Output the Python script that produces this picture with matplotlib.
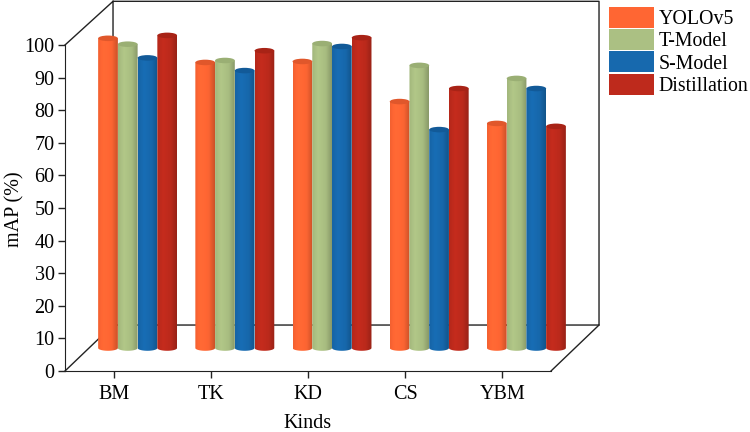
import matplotlib
matplotlib.use("Agg")
import matplotlib.pyplot as plt
from matplotlib.patches import Ellipse, Patch
from matplotlib.path import Path
import numpy as np

plt.rcParams["font.family"] = ["Liberation Serif", "DejaVu Serif"]

kinds = ["BM", "TK", "KD", "CS", "YBM"]
yolo = [95.0, 87.6, 87.9, 75.6, 68.9]
t_model = [93.2, 88.2, 93.4, 86.7, 82.7]
s_model = [89.0, 85.1, 92.5, 67.0, 79.6]
distill = [95.9, 91.2, 95.2, 79.6, 68.0]

names = ["YOLOv5", "T-Model", "S-Model", "Distillation"]
series = [yolo, t_model, s_model, distill]
colors = ["#FF6633", "#ABC083", "#1769AE", "#BE2A1C"]
top_colors = ["#E0572B", "#9AAF74", "#125A98", "#A82316"]

# depth of the fake 3d box, in data units
depth_x = 0.494
depth_y = 14.1
wall_top = 113.4
bar_w = 0.203
cap_h = 0.85
fsize = 14.5


def shade(hexcol):
    # horizontal gradient, a bit lighter left of centre and dark on the right edge
    rgb = np.array(matplotlib.colors.to_rgb(hexcol))
    t = np.linspace(0, 1, 40)
    f = np.interp(t, [0, 0.3, 0.7, 1], [0.95, 1.04, 0.98, 0.8])
    return np.clip(rgb[None, None, :] * f[None, :, None], 0, 1)


def cylinder(ax, x, val, col, topcol):
    y0 = depth_y / 2
    y1 = y0 + val
    th = np.linspace(np.pi, 2 * np.pi, 30)
    bx = x + bar_w / 2 * np.cos(th)
    by = y0 + cap_h * np.sin(th)
    verts = np.vstack([[x - bar_w / 2, y1], np.column_stack([bx, by]), [x + bar_w / 2, y1], [x - bar_w / 2, y1]])
    im = ax.imshow(shade(col), extent=[x - bar_w / 2, x + bar_w / 2, y0 - cap_h, y1],
                   aspect="auto", zorder=3, interpolation="bilinear")
    im.set_clip_box(fig.bbox)
    im.set_clip_path(Path(verts), ax.transData)
    ax.add_patch(Ellipse((x, y1), bar_w, cap_h * 2, fc=topcol, ec="none", zorder=4, clip_on=False))


fig = plt.figure(figsize=(7.5, 4.32), dpi=100)
ax = fig.add_axes([65 / 750, 1 - 371 / 432, 486 / 750, 326 / 432])

for i in range(len(kinds)):
    for j in range(4):
        cx = i + 0.5 + depth_x / 2 + (j - 1.5) * bar_w
        cylinder(ax, cx, series[j][i], colors[j], top_colors[j])

# back wall and floor of the box
lw = 1.0
box_x = [0, depth_x, 5 + depth_x, 5 + depth_x, depth_x, depth_x]
box_y = [100, wall_top, wall_top, depth_y, depth_y, wall_top]
ax.plot(box_x, box_y, color="#222222", lw=lw, clip_on=False, zorder=1)
ax.plot([0, depth_x], [0, depth_y], color="#222222", lw=lw, clip_on=False, zorder=1)
ax.plot([5, 5 + depth_x], [0, depth_y], color="#222222", lw=lw, clip_on=False, zorder=1)

ax.set_xlim(0, 5)
ax.set_ylim(0, 100)
ax.set_xticks(np.arange(len(kinds)) + 0.5)
ax.set_xticklabels(kinds)
ax.set_yticks(np.arange(0, 101, 10))
ax.tick_params(labelsize=fsize, width=1, length=5, color="#222222", pad=5)
ax.tick_params(axis="y", pad=2.5)
ax.spines["top"].set_visible(False)
ax.spines["right"].set_visible(False)
ax.spines["left"].set_color("#222222")
ax.spines["bottom"].set_color("#222222")
ax.patch.set_alpha(0)

fig.text(15 / 750, 1 - 209 / 432, "mAP (%)", rotation=90, fontsize=fsize, ha="center", va="center")
fig.text(308 / 750, 1 - 423 / 432, "Kinds", fontsize=fsize, ha="center", va="center")

handles = [Patch(fc=c, ec="none") for c in colors]
fig.legend(handles, names, loc="upper left", bbox_to_anchor=(608 / 750, 1 - 6 / 432), frameon=False,
           fontsize=14.3, handlelength=2.25, handleheight=1.25, labelspacing=0.0,
           handletextpad=0.25, borderpad=0.05, borderaxespad=0)

fig.savefig("out.png", dpi=100)
